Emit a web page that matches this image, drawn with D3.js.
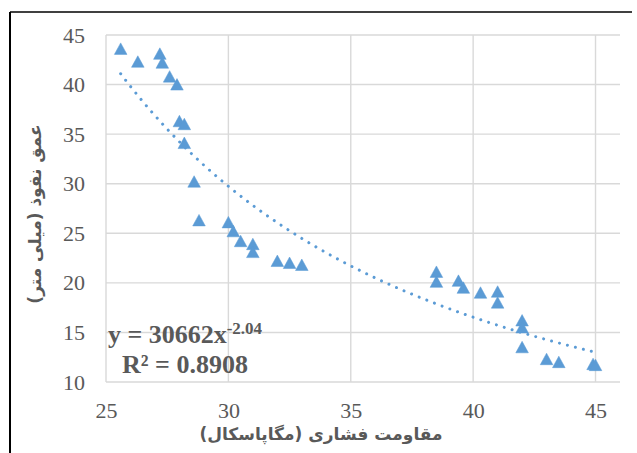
<!DOCTYPE html>
<html>
<head>
<meta charset="utf-8">
<script src="https://cdn.jsdelivr.net/npm/d3@7"></script>
<style>
  html, body { margin: 0; padding: 0; background: #fff; }
  svg { display: block; }
</style>
</head>
<body>
<svg id="chart" width="637" height="453"></svg>
<script>
// ---- data ----
const strength = [25.6, 26.3, 27.2, 27.3, 27.6, 27.9, 28.0, 28.2, 28.2, 28.6, 28.8,
  30.0, 30.2, 30.5, 31.0, 31.0, 32.0, 32.5, 33.0,
  38.5, 38.5, 39.4, 39.6, 40.3, 41.0, 41.0, 42.0, 42.0, 42.0, 43.0, 43.5, 44.9, 45.0];
const depth = [43.6, 42.3, 43.1, 42.2, 40.8, 40.0, 36.3, 36.0, 34.1, 30.2, 26.3,
  26.1, 25.2, 24.2, 23.9, 23.1, 22.2, 22.0, 21.8,
  21.1, 20.1, 20.2, 19.5, 19.0, 19.1, 18.0, 16.2, 15.5, 13.5, 12.3, 12.0, 11.8, 11.7];
const xTicks = [25, 30, 35, 40, 45];
const yTicks = [10, 15, 20, 25, 30, 35, 40, 45];
const trendCoef = 30662;
const trendExp = -2.04;
const eqLine1 = "y = 30662x";
const eqExp = "-2.04";
const eqLine2 = "R² = 0.8908";
const xTitle = "مقاومت فشاری (مگاپاسکال)";
const yTitle = "عمق نفوذ (میلی متر)";

// ---- layout ----
const svg = d3.select("#chart");
const blue = "#5B9BD5";
const gridCol = "#D9D9D9";
const textCol = "#595959";
const pLeft = 106, pRight = 620, pTop = 35, pBottom = 382;

const x = d3.scaleLinear().domain([25, 46]).range([pLeft, pRight]);
const y = d3.scaleLinear().domain([10, 45]).range([pBottom, pTop]);

svg.append("rect").attr("width", 637).attr("height", 453).attr("fill", "#fff");

// outer chart border (cropped at right/bottom)
svg.append("line").attr("x1", 10).attr("x2", 632).attr("y1", 12).attr("y2", 12)
  .attr("stroke", "#000").attr("stroke-width", 1.5);
svg.append("line").attr("x1", 10).attr("x2", 10).attr("y1", 12).attr("y2", 453)
  .attr("stroke", "#000").attr("stroke-width", 2);

// gridlines
const g = svg.append("g");
g.selectAll(".hg").data(yTicks).enter().append("line")
  .attr("x1", pLeft).attr("x2", pRight)
  .attr("y1", d => y(d)).attr("y2", d => y(d))
  .attr("stroke", gridCol).attr("stroke-width", 1.4);
g.selectAll(".vg").data(xTicks).enter().append("line")
  .attr("x1", d => x(d)).attr("x2", d => x(d))
  .attr("y1", pTop).attr("y2", pBottom)
  .attr("stroke", gridCol).attr("stroke-width", 1.4);

// axes labels via d3 axes (no lines)
const yAxis = svg.append("g").attr("transform", `translate(${pLeft},0)`)
  .call(d3.axisLeft(y).tickValues(yTicks).tickSize(0).tickPadding(21));
const xAxis = svg.append("g").attr("transform", `translate(0,${pBottom})`)
  .call(d3.axisBottom(x).tickValues(xTicks).tickSize(0).tickPadding(20));
[yAxis, xAxis].forEach(a => {
  a.select(".domain").remove();
  a.selectAll("text").attr("font-family", "'Liberation Serif', 'Times New Roman', serif")
    .attr("font-size", 22).attr("fill", textCol);
});

// trendline
const tx = d3.range(d3.min(strength), d3.max(strength) + 0.001, 0.1);
const line = d3.line().x(d => x(d)).y(d => y(trendCoef * Math.pow(d, trendExp)));
svg.append("path").datum(tx).attr("d", line)
  .attr("fill", "none").attr("stroke", blue).attr("stroke-width", 3)
  .attr("stroke-linecap", "round").attr("stroke-dasharray", "0.01 8.2");

// markers (triangles)
const pts = strength.map((v, i) => [v, depth[i]]);
svg.append("g").selectAll("path").data(pts).enter().append("path")
  .attr("d", d => {
    const cx = x(d[0]), cy = y(d[1]);
    return `M${cx},${cy - 6}L${cx + 6.3},${cy + 5.5}L${cx - 6.3},${cy + 5.5}Z`;
  })
  .attr("fill", blue).attr("stroke", blue).attr("stroke-width", 0.5);

// equation
const eq = svg.append("text").attr("x", 185).attr("y", 343).attr("text-anchor", "middle")
  .attr("font-family", "'Liberation Serif', 'Times New Roman', serif")
  .attr("font-weight", "bold").attr("font-size", 26).attr("fill", textCol);
eq.append("tspan").text(eqLine1);
eq.append("tspan").attr("dy", -9).attr("font-size", 17).text(eqExp);
svg.append("text").attr("x", 185).attr("y", 373).attr("text-anchor", "middle")
  .attr("font-family", "'Liberation Serif', 'Times New Roman', serif")
  .attr("font-weight", "bold").attr("font-size", 26).attr("fill", textCol)
  .text(eqLine2);

// axis titles
svg.append("text").attr("x", 321).attr("y", 440).attr("text-anchor", "middle")
  .attr("direction", "rtl")
  .attr("font-family", "'DejaVu Sans', 'Noto Sans', sans-serif")
  .attr("font-weight", "bold").attr("font-size", 17).attr("fill", textCol)
  .text(xTitle);
svg.append("text").attr("transform", "translate(41,214) rotate(-90)")
  .attr("text-anchor", "middle").attr("direction", "rtl")
  .attr("font-family", "'DejaVu Sans', 'Noto Sans', sans-serif")
  .attr("font-weight", "bold").attr("font-size", 17).attr("fill", textCol)
  .text(yTitle);
</script>
</body>
</html>
